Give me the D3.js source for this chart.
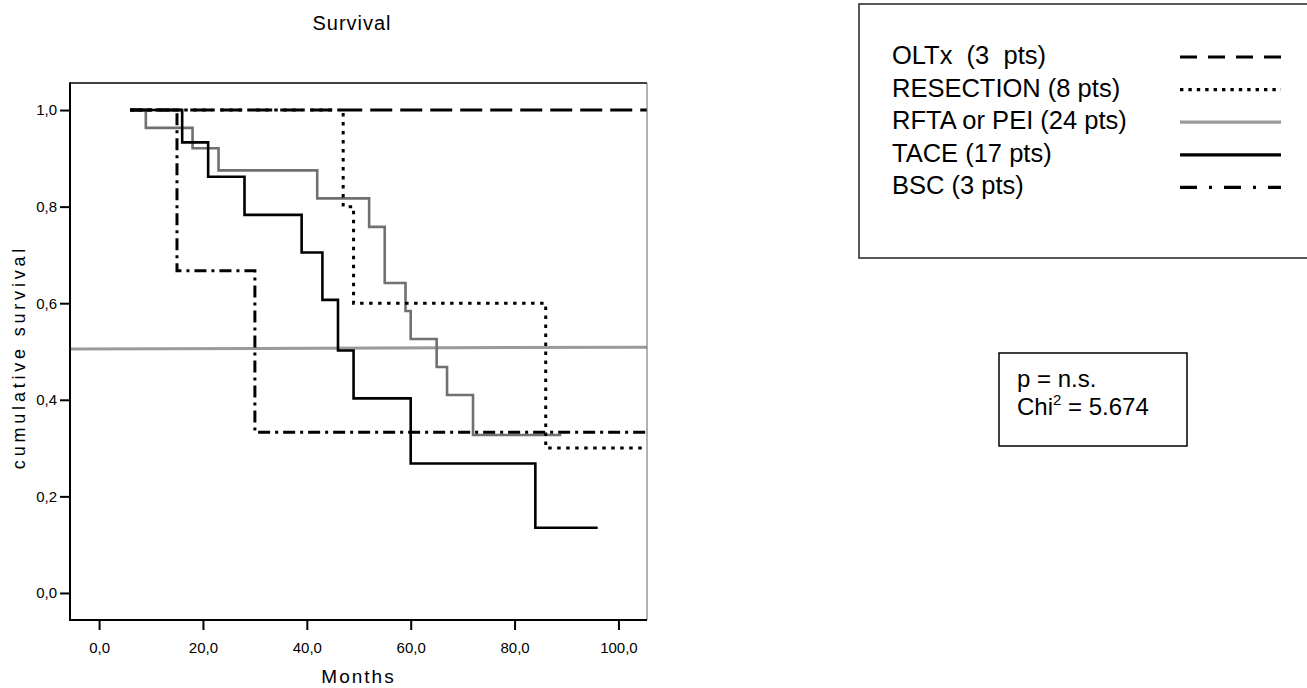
<!DOCTYPE html>
<html>
<head>
<meta charset="utf-8">
<script src="https://cdn.jsdelivr.net/npm/d3@7"></script>
<style>
  body { margin: 0; background: #fff; }
  svg text { font-family: "Liberation Sans", Arial, Helvetica, sans-serif; fill: #000; }
</style>
</head>
<body>
<div id="chart"></div>
<script>
// Kaplan-Meier steps (months, cumulative survival)
var oltxTime = [6, 110];
var oltxSurv = [1.0, 1.0];
var resectionTime = [6, 47, 49, 86, 110];
var resectionSurv = [1.0, 0.8, 0.6, 0.3, 0.3];
var rftaTime = [6, 9, 18, 23, 42, 52, 55, 59, 60, 65, 67, 72, 89];
var rftaSurv = [1.0, 0.963, 0.921, 0.875, 0.817, 0.758, 0.642, 0.584, 0.526, 0.468, 0.41, 0.327, 0.327];
var taceTime = [6, 16, 21, 28, 39, 43, 46, 49, 60, 84, 96];
var taceSurv = [1.0, 0.933, 0.862, 0.783, 0.705, 0.607, 0.502, 0.403, 0.268, 0.135, 0.135];
var bscTime = [6, 15, 30, 110];
var bscSurv = [1.0, 0.667, 0.333, 0.333];
// grey reference line across the plot
var refTime = [-5.6, 105.5];
var refSurv = [0.505, 0.509];

var legendLabels = ["OLTx  (3  pts)", "RESECTION (8 pts)", "RFTA or PEI (24 pts)", "TACE (17 pts)", "BSC (3 pts)"];
var xTicks = [0, 20, 40, 60, 80, 100];
var yTicks = [0, 0.2, 0.4, 0.6, 0.8, 1.0];

var width = 1307, height = 688;
var pLeft = 70, pRight = 647, pTop = 83, pBottom = 620;

var svg = d3.select("#chart").append("svg")
    .attr("width", width)
    .attr("height", height);

var x = d3.scaleLinear().domain([-5.6, 105.5]).range([pLeft, pRight]);
var y = d3.scaleLinear().domain([-0.056, 1.056]).range([pBottom, pTop]);

var fmt = function (d) { return d3.format(".1f")(d).replace(".", ","); };

svg.append("clipPath").attr("id", "plotclip")
  .append("rect")
    .attr("x", pLeft).attr("y", pTop - 5)
    .attr("width", pRight - pLeft).attr("height", pBottom - pTop + 5);

var step = d3.line()
    .x(function (d) { return x(d[0]); })
    .y(function (d) { return y(d[1]); })
    .curve(d3.curveStepAfter);

var straight = d3.line()
    .x(function (d) { return x(d[0]); })
    .y(function (d) { return y(d[1]); });

var series = [
  { t: refTime, s: refSurv, color: "#9a9a9a", w: 3, dash: null, gen: straight },
  { t: rftaTime, s: rftaSurv, color: "#707070", w: 2.6, dash: null, gen: step },
  { t: taceTime, s: taceSurv, color: "#000", w: 2.6, dash: null, gen: step },
  { t: resectionTime, s: resectionSurv, color: "#000", w: 3, dash: "3.5,5.5", gen: step },
  { t: bscTime, s: bscSurv, color: "#000", w: 3, dash: "12,5,3,5", gen: step },
  { t: oltxTime, s: oltxSurv, color: "#000", w: 3, dash: "22,8", gen: step }
];

var plot = svg.append("g").attr("clip-path", "url(#plotclip)");

series.forEach(function (sr) {
  var pts = sr.t.map(function (t, i) { return [t, sr.s[i]]; });
  plot.append("path")
      .attr("d", sr.gen(pts))
      .style("fill", "none")
      .style("stroke", sr.color)
      .style("stroke-width", sr.w + "px")
      .style("stroke-dasharray", sr.dash);
});

// frame
svg.append("line").attr("x1", pLeft).attr("x2", pRight).attr("y1", pTop).attr("y2", pTop)
    .style("stroke", "#000").style("stroke-width", "1.5px");
svg.append("line").attr("x1", pRight).attr("x2", pRight).attr("y1", pTop).attr("y2", pBottom)
    .style("stroke", "#666").style("stroke-width", "1px");
svg.append("line").attr("x1", pLeft).attr("x2", pLeft).attr("y1", pTop - 0.75).attr("y2", pBottom + 1)
    .style("stroke", "#000").style("stroke-width", "2px");
svg.append("line").attr("x1", pLeft - 1).attr("x2", pRight).attr("y1", pBottom).attr("y2", pBottom)
    .style("stroke", "#000").style("stroke-width", "2px");

// axes
var xAxis = svg.append("g")
    .attr("transform", "translate(0," + pBottom + ")")
    .call(d3.axisBottom(x).tickValues(xTicks).tickFormat(fmt).tickSize(10).tickPadding(12));
var yAxis = svg.append("g")
    .attr("transform", "translate(" + pLeft + ",0)")
    .call(d3.axisLeft(y).tickValues(yTicks).tickFormat(fmt).tickSize(10).tickPadding(3));

[xAxis, yAxis].forEach(function (a) {
  a.select(".domain").remove();
  a.attr("font-size", null).attr("font-family", null);
  a.selectAll(".tick line").style("stroke", "#000").style("stroke-width", "2px");
  a.selectAll(".tick text")
      .style("font-size", "15px")
      .style("fill", "#000");
});

// titles
svg.append("text")
    .text("Survival")
    .attr("text-anchor", "middle")
    .style("font-size", "20px")
    .style("letter-spacing", "1px")
    .attr("x", 352)
    .attr("y", 30);

svg.append("text")
    .text("Months")
    .attr("text-anchor", "middle")
    .style("font-size", "19px")
    .style("letter-spacing", "2px")
    .attr("x", (pLeft + pRight) / 2)
    .attr("y", 683);

svg.append("text")
    .text("cumulative survival")
    .attr("text-anchor", "middle")
    .style("font-size", "18px")
    .style("letter-spacing", "3.8px")
    .attr("transform", "translate(25,357) rotate(-90)");

// legend box
svg.append("rect")
    .attr("x", 859).attr("y", 4)
    .attr("width", 470).attr("height", 254)
    .style("fill", "none").style("stroke", "#222").style("stroke-width", "1.5px");

var legendStyles = [
  { color: "#000", dash: "17,11" },
  { color: "#000", dash: "3.4,5" },
  { color: "#9a9a9a", dash: null },
  { color: "#000", dash: null },
  { color: "#000", dash: "17,12,3,12" }
];

legendLabels.forEach(function (lab, i) {
  var rowY = 57 + i * 32.6;
  svg.append("text")
      .text(lab)
      .style("font-size", "25.5px")
      .style("white-space", "pre")
      .attr("x", 892)
      .attr("y", rowY + 7);
  svg.append("line")
      .attr("x1", 1180).attr("x2", 1281)
      .attr("y1", rowY).attr("y2", rowY)
      .style("stroke", legendStyles[i].color)
      .style("stroke-width", "3.2px")
      .style("stroke-dasharray", legendStyles[i].dash);
});

// statistics box
svg.append("rect")
    .attr("x", 999).attr("y", 353)
    .attr("width", 188).attr("height", 93)
    .style("fill", "none").style("stroke", "#000").style("stroke-width", "1.5px");

svg.append("text")
    .text("p = n.s.")
    .style("font-size", "24px")
    .attr("x", 1017).attr("y", 387);

var chi = svg.append("text")
    .style("font-size", "24px")
    .style("white-space", "pre")
    .attr("x", 1017).attr("y", 415);
chi.append("tspan").text("Chi");
chi.append("tspan").text("2").attr("dy", -10).style("font-size", "15px");
chi.append("tspan").text(" = 5.674").attr("dy", 10);
</script>
</body>
</html>
